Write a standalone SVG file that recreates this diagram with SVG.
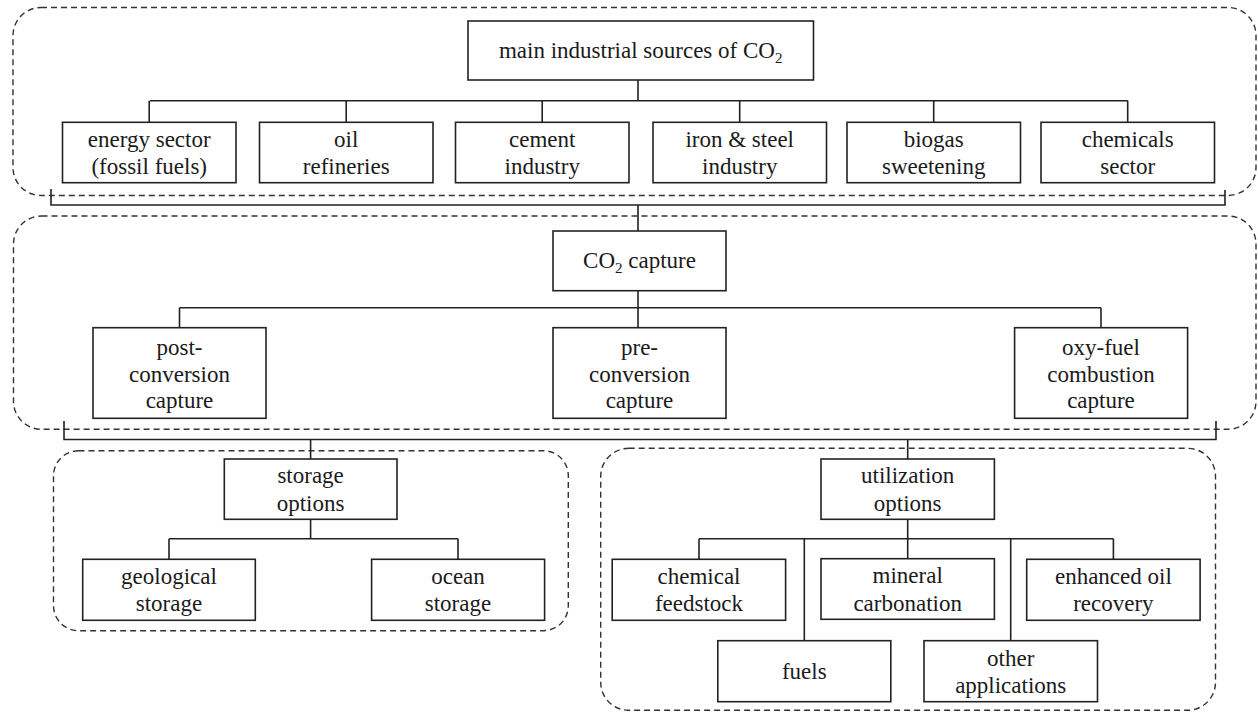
<svg xmlns="http://www.w3.org/2000/svg" width="1258" height="713" viewBox="0 0 1258 713">
<style>
.grp{fill:none;stroke:#333;stroke-width:1.4;stroke-dasharray:6 4}
.box{fill:#fff;stroke:#222;stroke-width:1.6}
.ln{fill:none;stroke:#222;stroke-width:1.6}
</style>
<defs>
<style>
.sub{font-size:15px}
</style>
</defs>
<rect width="1258" height="713" fill="#fff"/>
<g id="groups">
<rect class="grp" x="13" y="7.5" width="1243" height="188" rx="28"/>
<rect class="grp" x="13.5" y="216" width="1242.5" height="213.3" rx="28"/>
<rect class="grp" x="53.5" y="450.7" width="514.8" height="180" rx="25"/>
<rect class="grp" x="600.7" y="448.3" width="614.8" height="262" rx="28"/>
</g>
<g id="connectors">
<path class="ln" d="M638 80V100.7M150 100.7H1127.8M149.2 100.7V122.3M346.2 100.7V122.3M542.2 100.7V122.3M739.7 100.7V122.3M933.7 100.7V122.3M1127.7 100.7V122.3"/>
<path class="ln" d="M51 189V205H1225V190M638 205V231"/>
<path class="ln" d="M638 290.7V327.7M179.5 307.7H1101M179.5 307.7V327.7M1101 307.7V327.7"/>
<path class="ln" d="M64 421V439.5H1216V421M310.6 439.5V459M907.7 439.5V459"/>
<path class="ln" d="M310.6 519.3V538.7M169 538.7H458M169 538.7V559.3M458 538.7V559.3"/>
<path class="ln" d="M907.7 519.3V558.7M699 538.7H1113.4M699 538.7V559.3M1113.4 538.7V559.3M804.3 538.7V640.7M1010.7 538.7V640.7"/>
</g>
<g id="nodes" fill="#1a1a1a" text-anchor="middle" font-size="23">
<g id="n-title"><rect class="box" x="468" y="21" width="345.5" height="59"/><text style="font-family:'Liberation Serif',serif" x="640.7" y="58">main industrial sources of CO<tspan class="sub" dy="5">2</tspan></text></g>
<g id="n-energy"><rect class="box" x="62.5" y="122.3" width="173.5" height="60.4"/><text style="font-family:'Liberation Serif',serif" x="149.2" y="147">energy sector</text><text style="font-family:'Liberation Serif',serif" x="149.2" y="174">(fossil fuels)</text></g>
<g id="n-oil"><rect class="box" x="259.5" y="122.3" width="173.5" height="60.4"/><text style="font-family:'Liberation Serif',serif" x="346.2" y="147">oil</text><text style="font-family:'Liberation Serif',serif" x="346.2" y="174">refineries</text></g>
<g id="n-cement"><rect class="box" x="455.5" y="122.3" width="173.5" height="60.4"/><text style="font-family:'Liberation Serif',serif" x="542.2" y="147">cement</text><text style="font-family:'Liberation Serif',serif" x="542.2" y="174">industry</text></g>
<g id="n-iron"><rect class="box" x="653" y="122.3" width="173.5" height="60.4"/><text style="font-family:'Liberation Serif',serif" x="739.7" y="147">iron &amp; steel</text><text style="font-family:'Liberation Serif',serif" x="739.7" y="174">industry</text></g>
<g id="n-biogas"><rect class="box" x="847" y="122.3" width="173.5" height="60.4"/><text style="font-family:'Liberation Serif',serif" x="933.7" y="147">biogas</text><text style="font-family:'Liberation Serif',serif" x="933.7" y="174">sweetening</text></g>
<g id="n-chem"><rect class="box" x="1041" y="122.3" width="173.5" height="60.4"/><text style="font-family:'Liberation Serif',serif" x="1127.7" y="147">chemicals</text><text style="font-family:'Liberation Serif',serif" x="1127.7" y="174">sector</text></g>
<g id="n-capture"><rect class="box" x="553" y="231" width="173" height="59.7"/><text style="font-family:'Liberation Serif',serif" x="639.5" y="268.3">CO<tspan class="sub" dy="5">2</tspan><tspan dy="-5"> capture</tspan></text></g>
<g id="n-post"><rect class="box" x="93" y="327.7" width="173" height="90.6"/><text style="font-family:'Liberation Serif',serif" x="179.5" y="355">post-</text><text style="font-family:'Liberation Serif',serif" x="179.5" y="381.5">conversion</text><text style="font-family:'Liberation Serif',serif" x="179.5" y="408">capture</text></g>
<g id="n-pre"><rect class="box" x="553" y="327.7" width="173" height="90.6"/><text style="font-family:'Liberation Serif',serif" x="639.5" y="355">pre-</text><text style="font-family:'Liberation Serif',serif" x="639.5" y="381.5">conversion</text><text style="font-family:'Liberation Serif',serif" x="639.5" y="408">capture</text></g>
<g id="n-oxy"><rect class="box" x="1014.6" y="327.7" width="173" height="90.6"/><text style="font-family:'Liberation Serif',serif" x="1101" y="355">oxy-fuel</text><text style="font-family:'Liberation Serif',serif" x="1101" y="381.5">combustion</text><text style="font-family:'Liberation Serif',serif" x="1101" y="408">capture</text></g>
<g id="n-storage"><rect class="box" x="224.3" y="459" width="172.7" height="60.3"/><text style="font-family:'Liberation Serif',serif" x="310.6" y="483">storage</text><text style="font-family:'Liberation Serif',serif" x="310.6" y="510.5">options</text></g>
<g id="n-geo"><rect class="box" x="82.7" y="559.3" width="172.6" height="61"/><text style="font-family:'Liberation Serif',serif" x="169" y="584">geological</text><text style="font-family:'Liberation Serif',serif" x="169" y="611">storage</text></g>
<g id="n-ocean"><rect class="box" x="371.6" y="559.3" width="173" height="61"/><text style="font-family:'Liberation Serif',serif" x="458" y="584">ocean</text><text style="font-family:'Liberation Serif',serif" x="458" y="611">storage</text></g>
<g id="n-util"><rect class="box" x="821" y="459" width="173.4" height="60.3"/><text style="font-family:'Liberation Serif',serif" x="907.7" y="483">utilization</text><text style="font-family:'Liberation Serif',serif" x="907.7" y="510.5">options</text></g>
<g id="n-feed"><rect class="box" x="612.2" y="559.3" width="173.4" height="61"/><text style="font-family:'Liberation Serif',serif" x="699" y="584">chemical</text><text style="font-family:'Liberation Serif',serif" x="699" y="611">feedstock</text></g>
<g id="n-mineral"><rect class="box" x="821" y="558.7" width="173.4" height="60.6"/><text style="font-family:'Liberation Serif',serif" x="907.7" y="583">mineral</text><text style="font-family:'Liberation Serif',serif" x="907.7" y="610.5">carbonation</text></g>
<g id="n-eor"><rect class="box" x="1026.7" y="559.3" width="173.4" height="61"/><text style="font-family:'Liberation Serif',serif" x="1113.4" y="584">enhanced oil</text><text style="font-family:'Liberation Serif',serif" x="1113.4" y="611">recovery</text></g>
<g id="n-fuels"><rect class="box" x="717.8" y="640.7" width="173" height="61"/><text style="font-family:'Liberation Serif',serif" x="804.3" y="678.5">fuels</text></g>
<g id="n-other"><rect class="box" x="924" y="640.7" width="173.5" height="61"/><text style="font-family:'Liberation Serif',serif" x="1010.7" y="665.5">other</text><text style="font-family:'Liberation Serif',serif" x="1010.7" y="692.5">applications</text></g>
</g>
</svg>
